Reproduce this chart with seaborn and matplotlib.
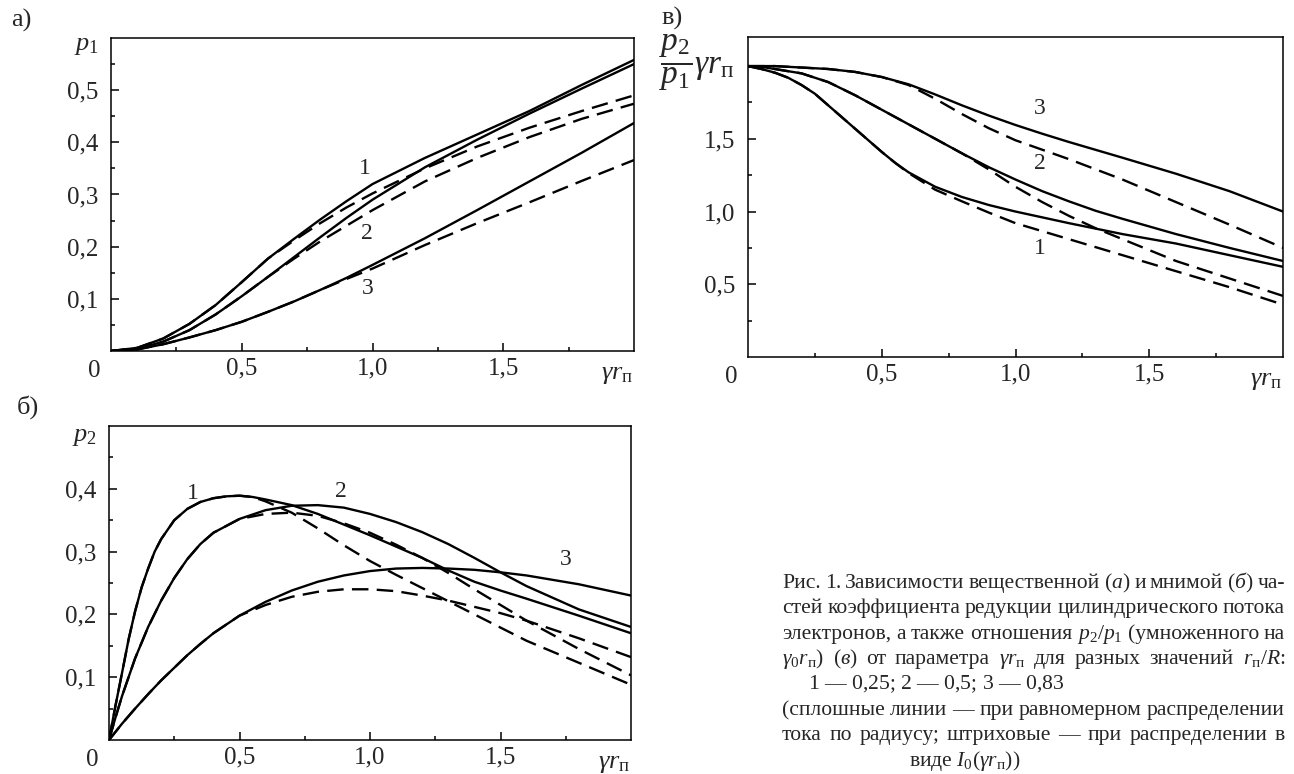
import matplotlib
matplotlib.use('Agg')
import matplotlib.pyplot as plt
import seaborn as sns

# ---- а) p1 (вещественная часть) ----
a_x = [0, 0.1, 0.2, 0.3, 0.4, 0.5, 0.6, 0.7, 0.8, 0.9, 1.0, 1.2, 1.4, 1.6, 1.8, 2.0]
a1_y = [0, 0.006, 0.024, 0.052, 0.088, 0.132, 0.177, 0.215, 0.252, 0.287, 0.32, 0.37, 0.415, 0.46, 0.51, 0.558]
a2_y = [0, 0.004, 0.018, 0.04, 0.07, 0.105, 0.142, 0.18, 0.218, 0.255, 0.29, 0.352, 0.405, 0.455, 0.503, 0.55]
a3_y = [0, 0.003, 0.013, 0.026, 0.04, 0.056, 0.075, 0.095, 0.117, 0.14, 0.165, 0.216, 0.27, 0.325, 0.38, 0.437]
a1_dy = [0, 0.006, 0.024, 0.052, 0.088, 0.132, 0.177, 0.212, 0.245, 0.275, 0.302, 0.35, 0.392, 0.428, 0.46, 0.49]
a2_dy = [0, 0.004, 0.018, 0.04, 0.07, 0.105, 0.142, 0.177, 0.21, 0.24, 0.27, 0.325, 0.37, 0.41, 0.445, 0.474]
a3_dy = [0, 0.003, 0.013, 0.026, 0.04, 0.056, 0.075, 0.095, 0.117, 0.138, 0.158, 0.203, 0.245, 0.285, 0.326, 0.366]

# ---- в) p2/p1 * gamma r ----
v1_x = [0, 0.05, 0.1, 0.15, 0.2, 0.25, 0.3, 0.35, 0.4, 0.45, 0.5, 0.55, 0.6, 0.7, 0.8, 0.9, 1.0, 1.2, 1.4, 1.6, 1.8, 2.0]
v1_y = [2.0, 1.98, 1.955, 1.92, 1.87, 1.81, 1.73, 1.65, 1.57, 1.49, 1.41, 1.335, 1.27, 1.17, 1.1, 1.045, 1.0, 0.92, 0.845, 0.78, 0.7, 0.62]
v1_dy = [2.0, 1.98, 1.955, 1.92, 1.87, 1.81, 1.73, 1.65, 1.57, 1.49, 1.41, 1.335, 1.265, 1.15, 1.07, 0.993, 0.92, 0.81, 0.70, 0.59, 0.48, 0.36]
v2_x = [0, 0.05, 0.1, 0.15, 0.2, 0.25, 0.3, 0.4, 0.5, 0.6, 0.7, 0.8, 0.9, 1.0, 1.1, 1.2, 1.3, 1.4, 1.6, 1.8, 2.0]
v2_y = [2.0, 1.995, 1.98, 1.965, 1.95, 1.92, 1.89, 1.8, 1.7, 1.6, 1.5, 1.4, 1.305, 1.22, 1.14, 1.07, 1.005, 0.95, 0.845, 0.75, 0.66]
v2_dy = [2.0, 1.995, 1.98, 1.965, 1.95, 1.92, 1.89, 1.8, 1.7, 1.6, 1.5, 1.4, 1.29, 1.17, 1.065, 0.97, 0.885, 0.81, 0.66, 0.54, 0.42]
v3_x = [0, 0.1, 0.2, 0.3, 0.4, 0.5, 0.6, 0.7, 0.8, 0.9, 1.0, 1.1, 1.2, 1.4, 1.6, 1.8, 2.0]
v3_y = [2.0, 2.0, 1.99, 1.98, 1.96, 1.925, 1.875, 1.805, 1.73, 1.66, 1.595, 1.535, 1.478, 1.37, 1.26, 1.14, 1.0]
v3_dy = [2.0, 2.0, 1.99, 1.98, 1.96, 1.925, 1.87, 1.775, 1.67, 1.573, 1.49, 1.425, 1.36, 1.22, 1.065, 0.91, 0.75]

# ---- б) p2 (мнимая часть) ----
b1_x = [0, 0.025, 0.05, 0.075, 0.1, 0.125, 0.15, 0.175, 0.2, 0.25, 0.3, 0.35, 0.4, 0.45, 0.5, 0.55,
        0.6, 0.7, 0.8, 0.9, 1.0, 1.1, 1.2, 1.3, 1.4, 1.5, 1.6, 1.8, 2.0]
b1_y = [0, 0.055, 0.107, 0.16, 0.205, 0.243, 0.273, 0.3, 0.32, 0.35, 0.368, 0.379, 0.385, 0.388, 0.389, 0.387,
        0.383, 0.374, 0.36, 0.343, 0.326, 0.308, 0.29, 0.27, 0.252, 0.238, 0.225, 0.198, 0.17]
b1_dy = [0, 0.055, 0.107, 0.16, 0.205, 0.243, 0.273, 0.3, 0.32, 0.35, 0.368, 0.379, 0.385, 0.388, 0.389, 0.387,
         0.38, 0.362, 0.337, 0.31, 0.285, 0.263, 0.242, 0.221, 0.2, 0.179, 0.158, 0.123, 0.088]
b_x = [0, 0.025, 0.05, 0.1, 0.15, 0.2, 0.25, 0.3, 0.35, 0.4, 0.5, 0.6, 0.7, 0.8, 0.9, 1.0, 1.1, 1.2,
       1.3, 1.4, 1.5, 1.6, 1.8, 2.0]
b2_y = [0, 0.036, 0.07, 0.13, 0.18, 0.222, 0.258, 0.288, 0.312, 0.33, 0.352, 0.366, 0.373, 0.374, 0.37, 0.36,
        0.347, 0.331, 0.312, 0.29, 0.267, 0.245, 0.208, 0.18]
b2_dy = [0, 0.036, 0.07, 0.13, 0.18, 0.222, 0.258, 0.288, 0.312, 0.33, 0.352, 0.36, 0.362, 0.357, 0.345, 0.33,
         0.311, 0.29, 0.266, 0.24, 0.215, 0.19, 0.145, 0.103]
b3_y = [0, 0.013, 0.026, 0.05, 0.073, 0.095, 0.115, 0.135, 0.153, 0.17, 0.198, 0.22, 0.238, 0.252, 0.262, 0.269,
        0.273, 0.274, 0.273, 0.271, 0.267, 0.262, 0.248, 0.23]
b3_dy = [0, 0.013, 0.026, 0.05, 0.073, 0.095, 0.115, 0.135, 0.153, 0.17, 0.198, 0.215, 0.228, 0.236, 0.24, 0.24,
         0.237, 0.23, 0.222, 0.212, 0.202, 0.19, 0.162, 0.132]

x_ticks = [0.5, 1.0, 1.5]
x_labels = ['0,5', '1,0', '1,5']

sns.set_theme(style='ticks')
plt.rcParams['font.family'] = ['Liberation Serif', 'DejaVu Serif']
plt.rcParams['mathtext.fontset'] = 'custom'
plt.rcParams['mathtext.rm'] = 'Liberation Serif'
plt.rcParams['mathtext.it'] = 'Liberation Serif:italic'
plt.rcParams['mathtext.bf'] = 'Liberation Serif:bold'

W, H = 1294, 774
fig = plt.figure(figsize=(W / 100, H / 100), dpi=100)


def box(l, t, r, b):
    return fig.add_axes([l / W, 1 - b / H, (r - l) / W, (b - t) / H])


ax_a = box(111, 38, 634, 351)
ax_v = box(748, 37, 1283, 357)
ax_b = box(109, 426, 631, 740)

SOLID = dict(color='black', lw=1.7)
DASH = dict(color='black', lw=1.7, linestyle=(0, (7, 3.5)))
GR = r'$\gamma r_{\mathrm{п}}$'
TFS = 18


def curves(ax, pairs):
    for x, y, kw in pairs:
        sns.lineplot(x=x, y=y, ax=ax, **kw)


def style(ax, ymax, yt, ylab, yminor):
    ax.set_xlim(0, 2)
    ax.set_ylim(0, ymax)
    ax.set_xticks(x_ticks, labels=x_labels)
    ax.set_xticks([0.25, 0.75, 1.25, 1.75], minor=True)
    ax.set_yticks(yt, labels=ylab)
    ax.set_yticks(yminor, minor=True)
    ax.tick_params(which='both', direction='in', width=1.1, color='black', labelsize=TFS)
    ax.tick_params(which='major', length=6)
    ax.tick_params(which='minor', length=3)
    ax.tick_params(axis='y', pad=9)
    ax.tick_params(axis='x', pad=5)
    for s in ax.spines.values():
        s.set_linewidth(1.1)
        s.set_color('black')
    ax.set_xlabel('')
    ax.set_ylabel('')
    ax.annotate('0', xy=(0, 0), xycoords='axes fraction', xytext=(-17, -20),
                textcoords='offset pixels', ha='center', va='center', fontsize=TFS)
    ax.annotate(GR, xy=(1, 0), xycoords='axes fraction', xytext=(-17, -24),
                textcoords='offset pixels', ha='center', va='center', fontsize=19)


# а)
curves(ax_a, [(a_x, a1_y, SOLID), (a_x, a2_y, SOLID), (a_x, a3_y, SOLID),
              (a_x, a1_dy, DASH), (a_x, a2_dy, DASH), (a_x, a3_dy, DASH)])
style(ax_a, 0.6, [0.1, 0.2, 0.3, 0.4, 0.5], ['0,1', '0,2', '0,3', '0,4', '0,5'],
      [0.05, 0.15, 0.25, 0.35, 0.45, 0.55])
ax_a.annotate(r'$p_1$', xy=(0, 1), xycoords='axes fraction', xytext=(-12, -8),
              textcoords='offset pixels', ha='right', va='center', fontsize=19)
for t, x, y in [('1', 0.97, 0.35), ('2', 0.98, 0.225), ('3', 0.98, 0.12)]:
    ax_a.text(x, y, t, fontsize=17, ha='center', va='center')

# в)
curves(ax_v, [(v1_x, v1_y, SOLID), (v2_x, v2_y, SOLID), (v3_x, v3_y, SOLID),
              (v1_x, v1_dy, DASH), (v2_x, v2_dy, DASH), (v3_x, v3_dy, DASH)])
style(ax_v, 2.2, [0.5, 1.0, 1.5, 2.0], ['0,5', '1,0', '1,5', ''],
      [0.25, 0.75, 1.25, 1.75])
ax_v.annotate(r'$\dfrac{p_2}{p_1}\gamma r_{\mathrm{п}}$', xy=(0, 1), xycoords='axes fraction',
              xytext=(-14, -26), textcoords='offset pixels', ha='right', va='center', fontsize=24)
for t, x, y in [('3', 1.09, 1.71), ('2', 1.09, 1.33), ('1', 1.09, 0.745)]:
    ax_v.text(x, y, t, fontsize=17, ha='center', va='center')

# б)
curves(ax_b, [(b1_x, b1_y, SOLID), (b_x, b2_y, SOLID), (b_x, b3_y, SOLID),
              (b1_x, b1_dy, DASH), (b_x, b2_dy, DASH), (b_x, b3_dy, DASH)])
style(ax_b, 0.5, [0.1, 0.2, 0.3, 0.4], ['0,1', '0,2', '0,3', '0,4'],
      [0.05, 0.15, 0.25, 0.35, 0.45])
ax_b.annotate(r'$p_2$', xy=(0, 1), xycoords='axes fraction', xytext=(-12, -11),
              textcoords='offset pixels', ha='right', va='center', fontsize=19)
for t, x, y in [('1', 0.32, 0.393), ('2', 0.89, 0.396), ('3', 1.75, 0.287)]:
    ax_b.text(x, y, t, fontsize=17, ha='center', va='center')

# подписи панелей
fig.text(21 / W, 1 - 20 / H, 'а)', fontsize=19, ha='center', va='center')
fig.text(672 / W, 1 - 18 / H, 'в)', fontsize=19, ha='center', va='center')
fig.text(28 / W, 1 - 407 / H, 'б)', fontsize=19, ha='center', va='center')

# подпись к рисунку (выравнивание по ширине)
GR_C = r'$\gamma{r}_{\mathrm{п}}$'
caption = [
    ('j', 782, 'Рис. 1. Зависимости вещественной ($а$) и мнимой ($б$) ча-'),
    ('j', 782, 'стей коэффициента редукции цилиндрического потока'),
    ('j', 782, 'электронов, а также отношения $p_2/p_1$ (умноженного на'),
    ('j', 782, r'$\gamma_0r_{\mathrm{п}}$) ($в$) от параметра ' + GR_C + r' для разных значений $r_{\mathrm{п}}/R$:'),
    ('l', 808, r'$\mathit{1}$ — 0,25; $\mathit{2}$ — 0,5; $\mathit{3}$ — 0,83'),
    ('j', 782, '(сплошные линии — при равномерном распределении'),
    ('j', 782, 'тока по радиусу; штриховые — при распределении в'),
    ('l', 909, r'виде $I_0(\gamma{r}_{\mathrm{п}})$)'),
]
CAP_R = 1285
CAP_FS = 15.6
renderer = fig.canvas.get_renderer()
for i, (mode, x0, line) in enumerate(caption):
    yb = 1 - (588 + 25.4 * i) / H
    if mode == 'l':
        fig.text(x0 / W, yb, line, fontsize=CAP_FS, va='baseline')
        continue
    words = line.split(' ')
    ts = [fig.text(x0 / W, yb, w, fontsize=CAP_FS, va='baseline') for w in words]
    widths = [t.get_window_extent(renderer).width for t in ts]
    gap = (CAP_R - x0 - sum(widths)) / (len(ts) - 1)
    x = x0
    for t, w in zip(ts, widths):
        t.set_x(x / W)
        x += w + gap

fig.savefig('out.png', dpi=100)
